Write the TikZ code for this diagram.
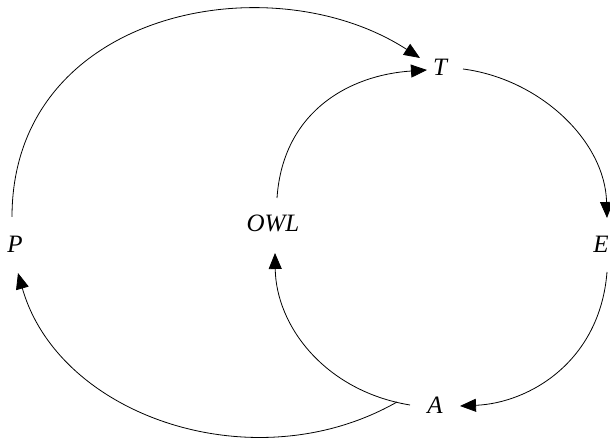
\documentclass[tikz,border=0pt]{standalone}
\usepackage{fontspec}
\setmainfont{Liberation Serif}
\usetikzlibrary{arrows.meta}
\begin{document}
\begin{tikzpicture}[x=1pt,y=1pt,
  lbl/.style={inner sep=0pt, font=\fontsize{25}{30}\selectfont\itshape},
  arr/.style={line width=0.8pt, -{Triangle[length=16pt,width=13pt]}}]
\useasboundingbox (0,0) rectangle (610,441);
\node[lbl] (T) at (440,374) {T};
\node[lbl] (A) at (435,36) {A};
\node[lbl] (P) at (15,197) {P};
\node[lbl] (E) at (601,197) {E};
\node[lbl] (OWL) at (273,218) {OWL};
% P -> T
\draw[arr] ([shift={(-3,27)}]P.center) .. controls (12,430) and (270,480) .. ([shift={(-20,9)}]T.center);
% OWL -> T
\draw[arr] ([shift={(4,25)}]OWL.center) .. controls (283,330) and (350,366) .. ([shift={(-13,-3)}]T.center);
% T -> E
\draw[arr] ([shift={(23,-2)}]T.center) .. controls (540,362) and (605,300) .. ([shift={(6,26)}]E.center);
% E -> A
\draw[arr] ([shift={(6,-28)}]E.center) .. controls (600,80) and (530,38) .. ([shift={(25,-1)}]A.center);
% A -> OWL
\draw[arr] ([shift={(-25,0)}]A.center) .. controls (325,50) and (276,115) .. ([shift={(2,-30)}]OWL.center);
% A -> P
\draw[arr] ([shift={(-38,3)}]A.center) .. controls (255,-42) and (59,24) .. ([shift={(3,-29)}]P.center);
\end{tikzpicture}
\end{document}
